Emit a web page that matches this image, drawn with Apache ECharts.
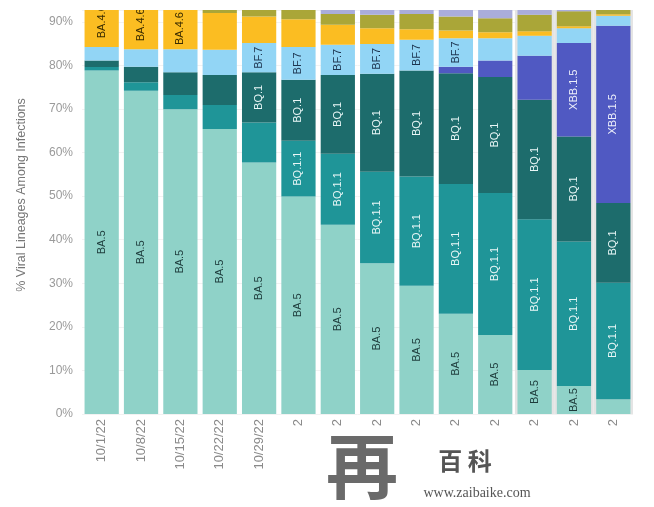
<!DOCTYPE html>
<html>
<head>
<meta charset="utf-8">
<script src="https://cdn.jsdelivr.net/npm/echarts@6/dist/echarts.min.js"></script>
<style>html,body{margin:0;padding:0;background:#fff}#c{width:654px;height:507px}</style>
</head>
<body>
<div id="c"></div>
<script>
// ---- data ----
var categories = ['10/1/22','10/8/22','10/15/22','10/22/22','10/29/22','11/5/22','11/12/22','11/19/22','11/26/22','12/3/22','12/10/22','12/17/22','12/24/22','12/31/22'];
var BA5    = [78.8, 74.2, 69.9, 65.4, 57.7, 49.9, 43.4, 34.6, 29.4, 23.0, 18.1, 10.1,  6.4,  3.4];
var BQ11   = [ 0.8,  1.9,  3.3,  5.5,  9.2, 12.8, 16.3, 21.0, 25.1, 29.8, 32.6, 34.6, 33.2, 26.7];
var BQ1    = [ 1.5,  3.6,  5.2,  6.9, 11.5, 14.0, 18.1, 22.5, 24.3, 25.4, 26.6, 27.4, 24.1, 18.3];
var XBB15  = [ 0,    0,    0,    0,    0,    0,    0,    0,    0,    1.5,  3.8, 10.1, 21.4, 40.7];
var BF7    = [ 3.1,  4.0,  5.3,  5.8,  6.7,  7.5,  6.9,  6.8,  7.1,  6.5,  5.1,  4.6,  3.4,  2.3];
var BA46   = [11.6, 11.2,  9.5,  8.4,  6.1,  6.4,  4.6,  3.6,  2.4,  1.8,  1.4,  1.0,  0.5,  0.3];
var BA275  = [ 1.5,  1.8,  2.0,  2.5,  3.0,  2.8,  2.5,  3.1,  3.5,  3.2,  3.2,  3.8,  3.4,  2.0];
var XBB    = [ 0.5,  0.5,  0.5,  0.6,  0.7,  1.0,  1.2,  1.3,  1.4,  1.8,  2.0,  1.5,  1.0,  0.5];
var nowcast = [null,null,null,null,null,null,null,null,null,null,null,100,100,100];
var yTicks = [0,10,20,30,40,50,60,70,80,90];

var seriesDefs = [
  {name:'BA.5',    data:BA5,   color:'#8fd2c8', text:'#1d3b3b', minLabel:5},
  {name:'BQ.1.1',  data:BQ11,  color:'#1f9598', text:'#e8f6f6', minLabel:10},
  {name:'BQ.1',    data:BQ1,   color:'#1d6c6c', text:'#e8f6f6', minLabel:10},
  {name:'XBB.1.5', data:XBB15, color:'#5059c2', text:'#eceefa', minLabel:15},
  {name:'BF.7',    data:BF7,   color:'#92d5f5', text:'#1d3550', minLabel:6},
  {name:'BA.4.6',  data:BA46,  color:'#fbbd22', text:'#3a2c00', minLabel:9},
  {name:'BA.2.75', data:BA275, color:'#aaa638', text:'#333',    minLabel:999},
  {name:'XBB',     data:XBB,   color:'#aaaddb', text:'#333',    minLabel:999}
];

var chart = echarts.init(document.getElementById('c'), null, {renderer:'canvas'});

var series = [{
  type:'bar', name:'nowcast', xAxisIndex:1, data:nowcast, barWidth:'100%',
  itemStyle:{color:'#e4e4e4'}, silent:true, z:0, animation:false
}];
seriesDefs.forEach(function(d){
  series.push({
    type:'bar', name:d.name, stack:'v', data:d.data, barCategoryGap:'13%',
    clip:false,
    itemStyle:{color:d.color}, z:2, animation:false,
    label:{
      show:true, position:'inside', rotate:90, fontSize:11,
      fontFamily:'Liberation Sans, Arial, sans-serif', color:d.text,
      formatter:function(p){ return p.value >= d.minLabel ? d.name : ''; }
    }
  });
});

chart.setOption({
  animation:false,
  grid:{left:82, right:21, top:10, bottom:93},
  xAxis:[{
    type:'category', data:categories,
    axisLine:{show:false}, axisTick:{show:false},
    axisLabel:{rotate:90, margin:5, fontSize:13, color:'#8a8a8a', fontFamily:'Liberation Sans, Arial, sans-serif', interval:0}
  },{
    type:'category', data:categories, show:false
  }],
  yAxis:{
    type:'value', min:0, max:92.7, interval:10,
    axisLine:{show:false}, axisTick:{show:false},
    splitLine:{lineStyle:{color:'#f2f2f2'}},
    axisLabel:{fontSize:12, color:'#9a9a9a', margin:9, fontFamily:'Liberation Sans, Arial, sans-serif',
      formatter:function(v){ return yTicks.indexOf(v) >= 0 ? v + '%' : ''; }}
  },
  series:series,
  graphic:[
    {type:'rect', shape:{x:0, y:0, width:654, height:10}, style:{fill:'#fff'}, z:100, silent:true},
    {type:'text', x:22, y:195, rotation:Math.PI/2, z:100,
     style:{text:'% Viral Lineages Among Infections', fontSize:12.5, fill:'#777',
            fontFamily:'Liberation Sans, Arial, sans-serif', align:'center', verticalAlign:'middle'}},
    {type:'rect', shape:{x:268, y:426.5, width:386, height:80.5}, style:{fill:'#fff'}, z:100, silent:true},
    {type:'text', x:362, y:466, z:101,
     style:{text:'再', fontSize:72, fontWeight:'bold', fill:'#6a6a6a', fontFamily:'"Noto Sans CJK SC", sans-serif', align:'center', verticalAlign:'middle'}},
    {type:'text', x:465, y:461, z:101,
     style:{text:'百 科', fontSize:24, fontWeight:'bold', fill:'#555', fontFamily:'"Noto Sans CJK SC", sans-serif', align:'center', verticalAlign:'middle'}},
    {type:'text', x:477, y:493, z:101,
     style:{text:'www.zaibaike.com', fontSize:14, fill:'#555', fontFamily:'"Liberation Serif", serif', align:'center', verticalAlign:'middle'}}
  ]
});
</script>
</body>
</html>
